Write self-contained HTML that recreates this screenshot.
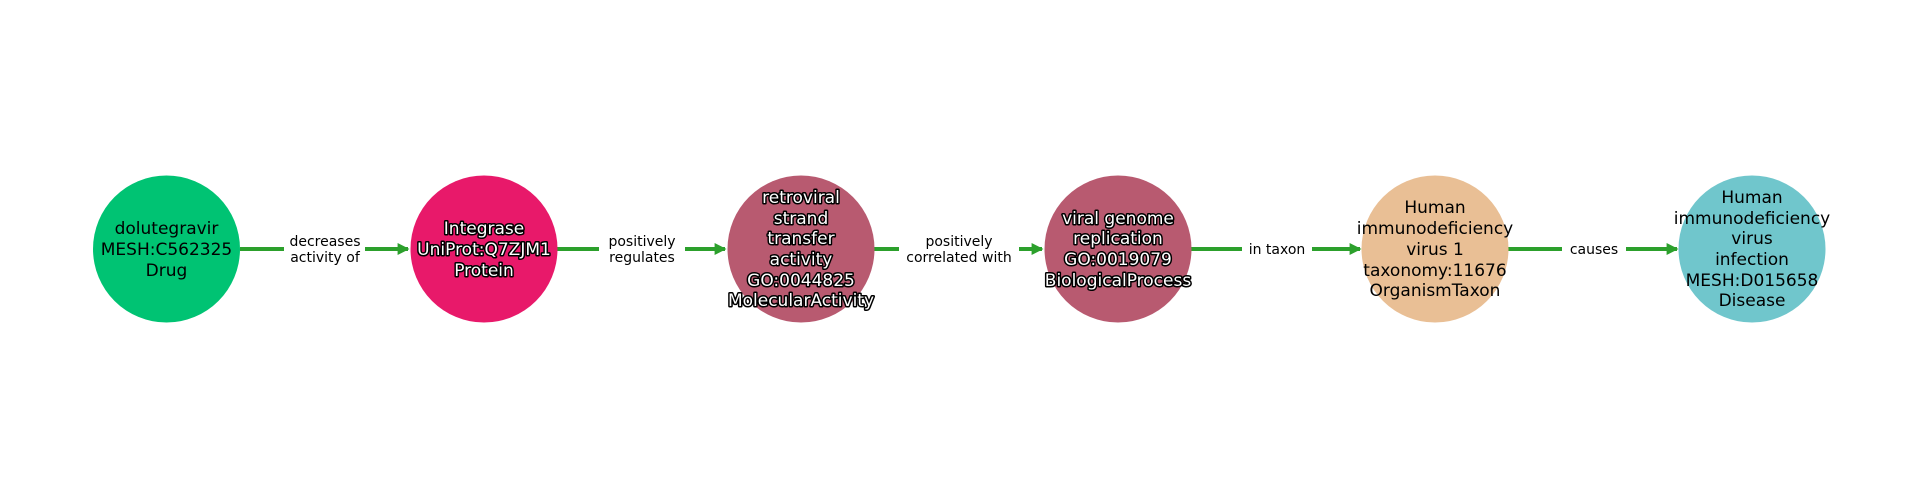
<!DOCTYPE html>
<html><head><meta charset="utf-8"><style>
html,body{margin:0;padding:0;background:#fff;}
svg{display:block;}
text{font-family:"DejaVu Sans","Liberation Sans",sans-serif;}
.n{font-size:17px;fill:#000;text-anchor:middle;}
.w{font-size:17px;fill:#fff;stroke:#000;stroke-width:3px;paint-order:stroke;stroke-linejoin:round;text-anchor:middle;}
.e{font-size:14px;fill:#000;text-anchor:middle;}
</style></head><body>
<svg width="1920" height="500" viewBox="0 0 1920 500" xmlns="http://www.w3.org/2000/svg">
<defs><marker id="a" markerWidth="3" markerHeight="3" refX="2.6" refY="1.5" orient="auto" markerUnits="strokeWidth"><path d="M0,0 L3,1.5 L0,3 z" fill="#2ca02c"/></marker></defs>
<g stroke="#2ca02c" stroke-width="4" marker-end="url(#a)">
<line x1="240" y1="249" x2="408" y2="249"/>
<line x1="557" y1="249" x2="725" y2="249"/>
<line x1="874" y1="249" x2="1042" y2="249"/>
<line x1="1191" y1="249" x2="1360" y2="249"/>
<line x1="1508" y1="249" x2="1677" y2="249"/>
</g>
<g fill="#fff">
<rect x="284" y="230" width="81" height="38"/>
<rect x="599" y="230" width="86" height="38"/>
<rect x="899" y="230" width="120" height="38"/>
<rect x="1242" y="239" width="70" height="20"/>
<rect x="1562" y="239" width="64" height="20"/>
</g>
<text class="e" x="325" y="246">decreases</text><text class="e" x="325" y="262">activity of</text>
<text class="e" x="642" y="246">positively</text><text class="e" x="642" y="262">regulates</text>
<text class="e" x="959" y="246">positively</text><text class="e" x="959" y="262">correlated with</text>
<text class="e" x="1277" y="254">in taxon</text>
<text class="e" x="1594" y="254">causes</text>
<circle cx="166.5" cy="249" r="73.5" fill="#00c373"/>
<circle cx="484" cy="249" r="73.5" fill="#e8196a"/>
<circle cx="801" cy="249" r="73.5" fill="#b85a70"/>
<circle cx="1118" cy="249" r="73.5" fill="#b85a70"/>
<circle cx="1435" cy="249" r="73.5" fill="#e9bf95"/>
<circle cx="1752" cy="249" r="73.5" fill="#70c6cc"/>
<text class="n" x="166.5" y="234">dolutegravir</text>
<text class="n" x="166.5" y="255">MESH:C562325</text>
<text class="n" x="166.5" y="276">Drug</text>
<text class="w" x="484" y="234">Integrase</text>
<text class="w" x="484" y="255">UniProt:Q7ZJM1</text>
<text class="w" x="484" y="276">Protein</text>
<text class="w" x="801" y="203">retroviral</text>
<text class="w" x="801" y="224">strand</text>
<text class="w" x="801" y="244">transfer</text>
<text class="w" x="801" y="265">activity</text>
<text class="w" x="801" y="286">GO:0044825</text>
<text class="w" x="801" y="306">MolecularActivity</text>
<text class="w" x="1118" y="224">viral genome</text>
<text class="w" x="1118" y="244">replication</text>
<text class="w" x="1118" y="265">GO:0019079</text>
<text class="w" x="1118" y="286">BiologicalProcess</text>
<text class="n" x="1435" y="213">Human</text>
<text class="n" x="1435" y="234">immunodeficiency</text>
<text class="n" x="1435" y="255">virus 1</text>
<text class="n" x="1435" y="276">taxonomy:11676</text>
<text class="n" x="1435" y="296">OrganismTaxon</text>
<text class="n" x="1752" y="203">Human</text>
<text class="n" x="1752" y="224">immunodeficiency</text>
<text class="n" x="1752" y="244">virus</text>
<text class="n" x="1752" y="265">infection</text>
<text class="n" x="1752" y="286">MESH:D015658</text>
<text class="n" x="1752" y="306">Disease</text>
</svg>
</body></html>
